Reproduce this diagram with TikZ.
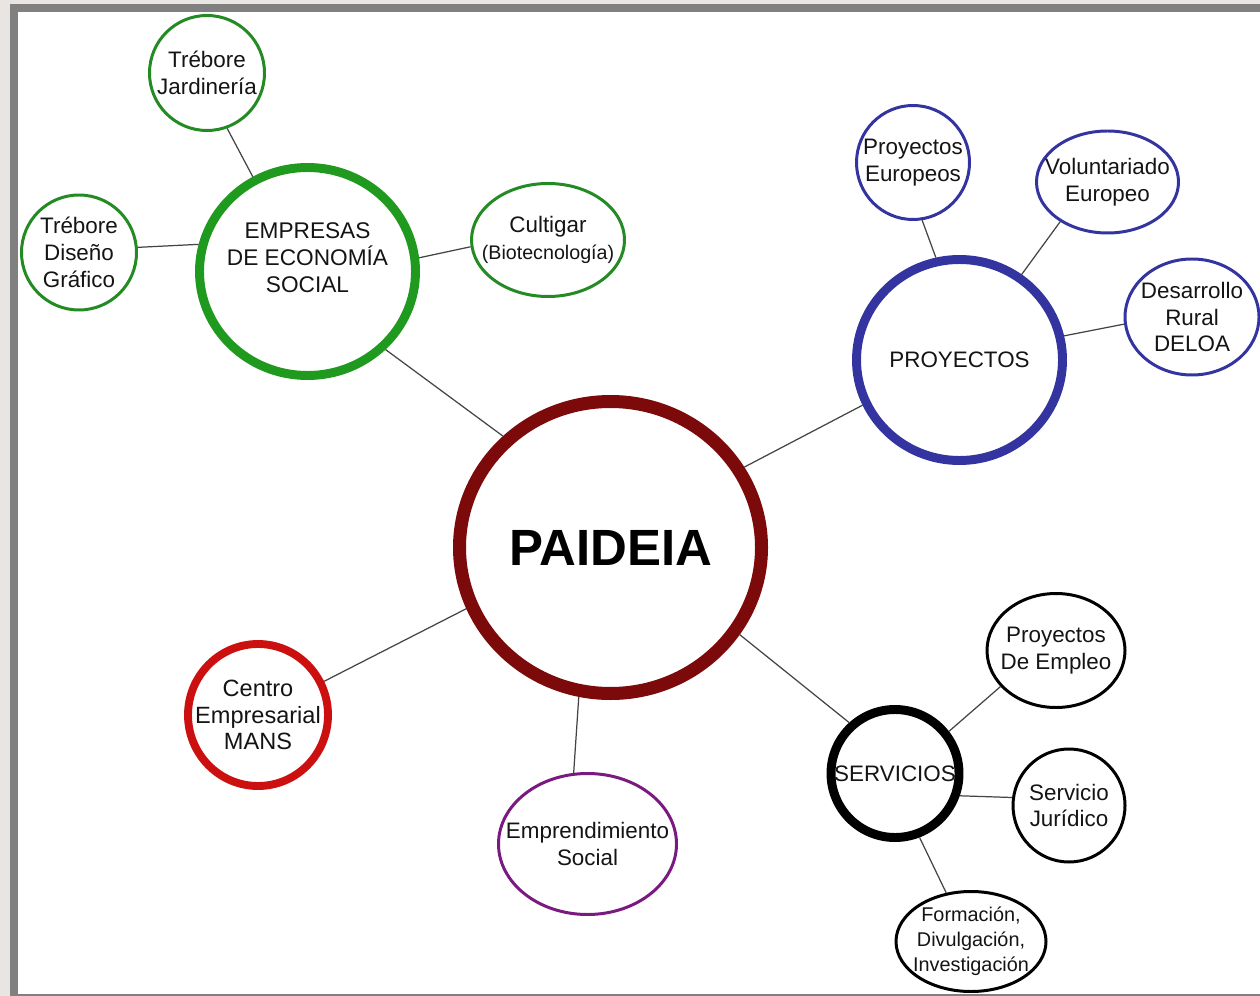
\documentclass[tikz,border=0pt]{standalone}
\usepackage{fontspec}
\setmainfont{Liberation Sans}
\usetikzlibrary{shapes.geometric}
\definecolor{bgout}{HTML}{E8E5E3}
\definecolor{framegray}{HTML}{808080}
\definecolor{cmaroon}{HTML}{7D0A0A}
\definecolor{cgreen}{HTML}{1F9A1F}
\definecolor{cgreensm}{HTML}{248A24}
\definecolor{cblue}{HTML}{3434A0}
\definecolor{cred}{HTML}{CC1010}
\definecolor{cpurple}{HTML}{7A1A80}
\definecolor{clink}{HTML}{444444}
\tikzset{
  bub/.style 2 args={ellipse, fill=white, inner sep=0pt,
    minimum width={(#1)*0.02cm}, minimum height={(#2)*0.02cm}},
  thinring/.style={line width=1.7pt},
  midring/.style={line width=5.1pt},
  txt/.style={align=center, inner sep=0pt, font=\fontsize{12.75}{15.3}\selectfont, text=black!92},
  smalltxt/.style={align=center, inner sep=0pt, font=\fontsize{11.3}{14.2}\selectfont, text=black!92},
  link/.style={draw=clink, line width=0.7pt},
}
\begin{document}
\begin{tikzpicture}[x=0.02cm, y=-0.02cm]
\useasboundingbox (0,0) rectangle (1260,996);
\fill[bgout] (0,0) rectangle (1260,996);
\fill[framegray] (10,4) rectangle (1260,996);
\fill[white] (18,12) rectangle (1260,993.5);

% main node
\node[bub={302}{292}, draw=cmaroon, line width=7.4pt,
  label={[align=center, font=\bfseries\fontsize{29}{34}\selectfont]center:PAIDEIA}] (pa) at (610.5,547.5) {};

% empresas
\node[bub={216}{208}, draw=cgreen, midring,
  label={[txt, font=\fontsize{12.9}{15.3}\selectfont, yshift=0.27cm]center:{EMPRESAS\\DE ECONOMÍA\\SOCIAL}}] (es) at (307.5,271.5) {};
\node[bub={115}{115}, draw=cgreensm, thinring,
  label={[txt]center:{Trébore\\Jardinería}}] (tj) at (207,73) {};
\node[bub={115}{115}, draw=cgreensm, thinring,
  label={[txt]center:{Trébore\\Diseño\\Gráfico}}] (tg) at (79,252.5) {};
\node[bub={153}{113}, draw=cgreensm, thinring,
  label={[txt]center:{Cultigar\\{\fontsize{11.2}{15.3}\selectfont (Biotecnología)}}}] (cu) at (548,240) {};

% proyectos
\node[bub={206}{201}, draw=cblue, midring,
  label={[txt]center:PROYECTOS}] (pr) at (959.5,360) {};
\node[bub={113}{114}, draw=cblue, thinring,
  label={[txt]center:{Proyectos\\Europeos}}] (pe) at (913,162.5) {};
\node[bub={142}{102}, draw=cblue, thinring,
  label={[txt]center:{Voluntariado\\Europeo}}] (ve) at (1107.5,182) {};
\node[bub={134}{116}, draw=cblue, thinring,
  label={[txt]center:{Desarrollo\\Rural\\DELOA}}] (dr) at (1192,317) {};

% centro
\node[bub={140}{142}, draw=cred, line width=4.5pt,
  label={[txt, font=\fontsize{13.4}{15.3}\selectfont]center:{Centro\\Empresarial\\MANS}}] (ce) at (258,715) {};

% emprendimiento
\node[bub={178}{141}, draw=cpurple, thinring,
  label={[txt]center:{Emprendimiento\\Social}}] (em) at (587.5,844) {};

% servicios
\node[bub={128}{128}, draw=black, midring,
  label={[txt]center:SERVICIOS}] (se) at (895,773.5) {};
\node[bub={138}{114}, draw=black, thinring,
  label={[txt]center:{Proyectos\\De Empleo}}] (pde) at (1056,650.5) {};
\node[bub={112}{113}, draw=black, thinring,
  label={[txt]center:{Servicio\\Jurídico}}] (sj) at (1069,805.5) {};
\node[bub={150}{100}, draw=black, thinring,
  label={[smalltxt]center:{Formación,\\Divulgación,\\Investigación}}] (fo) at (971,941.5) {};

% connectors
\draw[link] (pa.134.7) -- (es.315);
\draw[link] (es.120.7) -- (tj.290.2);
\draw[link] (es.166.7) -- (tg.5.8);
\draw[link] (es.7.7) -- (cu.185);
\draw[link] (pa.31.6) -- (pr.205.6);
\draw[link] (pr.103.2) -- (pe.279.5);
\draw[link] (pr.54) -- (ve.220.4);
\draw[link] (pr.13.4) -- (dr.186.9);
\draw[link] (pa.203.2) -- (ce.27.6);
\draw[link] (pa.258) -- (em.101.7);
\draw[link] (pa.326.5) -- (se.132.8);
\draw[link] (se.38) -- (pde.213);
\draw[link] (se.341.8) -- (sj.172.9);
\draw[link] (se.291) -- (fo.117.4);
\end{tikzpicture}
\end{document}
